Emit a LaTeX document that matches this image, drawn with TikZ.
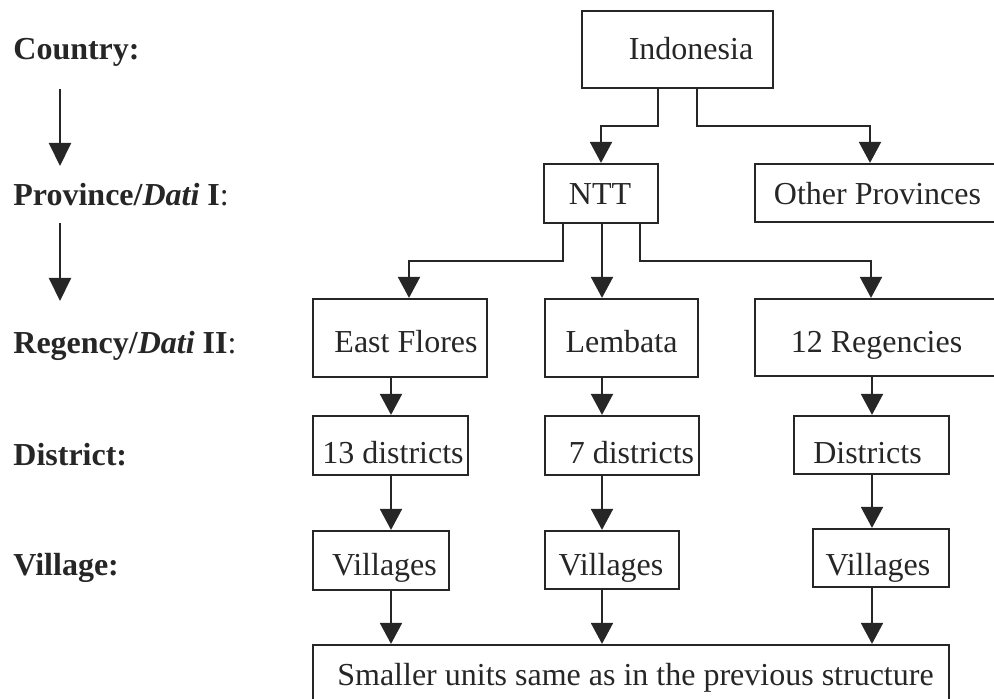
\documentclass[tikz,border=0pt]{standalone}
\usepackage{fontspec}
\setmainfont{Liberation Serif}
\usetikzlibrary{arrows.meta,fit}
\definecolor{ink}{HTML}{262626}
% a box spanning two corner points, given in pixel units
\newcommand\mkbox[5]{\node[box, fit={(#2,#3) (#4,#5)}] (#1) {};}
\begin{document}
\begin{tikzpicture}[x=0.5pt,y=-0.5pt,
  box/.style={draw=ink, line width=1.1pt, inner sep=0pt},
  txt/.style={anchor=base, inner sep=0pt, text=ink, font=\fontsize{16}{19}\selectfont},
  lvl/.style={anchor=base west, inner sep=0pt, text=ink, font=\fontsize{16}{19}\selectfont\bfseries},
  arr/.style={draw=ink, line width=1pt, -{Triangle[width=11pt,length=10.5pt]}},
  lvlarr/.style={draw=ink, line width=1pt, -{Triangle[width=11pt,length=11.5pt]}},
]
\useasboundingbox (0,0) rectangle (994,699);
\clip (0,0) rectangle (994,699);

% level labels on the left
\node[lvl] (lcountry)  at (13,60)  {Country:};
\node[lvl] (lprov)     at (13,206) {Province/\textit{Dati} I\mdseries:};
\node[lvl] (lregency)  at (13,354) {Regency/\textit{Dati} II\mdseries:};
\node[lvl] (ldistrict) at (13,465) {District:};
\node[lvl] (lvillage)  at (13,575) {Village:};

\coordinate (la1) at (60,89);  \coordinate (lb1) at (60,166);
\coordinate (la2) at (60,223); \coordinate (lb2) at (60,301);
\draw[lvlarr] (la1) -- (lb1);
\draw[lvlarr] (la2) -- (lb2);

% boxes
\mkbox{ind}{582}{11}{773}{88}
\mkbox{ntt}{544}{164}{658}{223}
\mkbox{oth}{755}{164}{1004}{222}
\mkbox{ef}{313}{299}{487}{377}
\mkbox{lem}{545}{299}{698}{377}
\mkbox{reg}{755}{299}{1004}{376}
\mkbox{dA}{313}{416}{468}{475}
\mkbox{dB}{545}{416}{699}{475}
\mkbox{dC}{794}{416}{949}{474}
\mkbox{vA}{313}{531}{449}{590}
\mkbox{vB}{545}{531}{679}{589}
\mkbox{vC}{813}{529}{949}{587}
\mkbox{small}{313}{645}{949}{705}

% box texts
\node[txt] (ind-t) at (691,60)    {Indonesia};
\node[txt] (ntt-t) at (600,205)   {NTT};
\node[txt] (oth-t) at (877.5,205) {Other Provinces};
\node[txt] (ef-t)  at (406,353)   {East Flores};
\node[txt] (lem-t) at (621.5,353) {Lembata};
\node[txt] (reg-t) at (876.5,353) {12 Regencies};
\node[txt] (dA-t)  at (393,463)   {13 districts};
\node[txt] (dB-t)  at (631.5,463) {7 districts};
\node[txt] (dC-t)  at (867.5,463) {Districts};
\node[txt] (vA-t)  at (384.5,575) {Villages};
\node[txt] (vB-t)  at (611,575)   {Villages};
\node[txt] (vC-t)  at (878,575)   {Villages};
\node[txt] (small-t) at (635.5,685) {Smaller units same as in the previous structure};

% column and elbow points of the connectors
\coordinate (cA) at (391,0);
\coordinate (cB) at (602,0);
\coordinate (cC) at (872,0);
\coordinate (i1) at (658,0); \coordinate (e1) at (601,126);
\coordinate (i2) at (697,0); \coordinate (e2) at (870,126);
\coordinate (n1) at (563,0); \coordinate (f1) at (409,261);
\coordinate (n3) at (640,0); \coordinate (f3) at (871,261);

% country to provinces
\draw[arr] (ind.south -| i1) |- (e1) -- (ntt.north -| e1);
\draw[arr] (ind.south -| i2) |- (e2) -- (oth.north -| e2);

% province to regencies
\draw[arr] (ntt.south -| n1) |- (f1) -- (ef.north -| f1);
\draw[arr] (ntt.south -| cB) -- (lem.north -| cB);
\draw[arr] (ntt.south -| n3) |- (f3) -- (reg.north -| f3);

% regencies to districts
\draw[arr] (ef.south -| cA)  -- (dA.north -| cA);
\draw[arr] (lem.south -| cB) -- (dB.north -| cB);
\draw[arr] (reg.south -| cC) -- (dC.north -| cC);

% districts to villages
\draw[arr] (dA.south -| cA) -- (vA.north -| cA);
\draw[arr] (dB.south -| cB) -- (vB.north -| cB);
\draw[arr] (dC.south -| cC) -- (vC.north -| cC);

% villages to smaller units
\draw[arr] (vA.south -| cA) -- (small.north -| cA);
\draw[arr] (vB.south -| cB) -- (small.north -| cB);
\draw[arr] (vC.south -| cC) -- (small.north -| cC);
\end{tikzpicture}
\end{document}
